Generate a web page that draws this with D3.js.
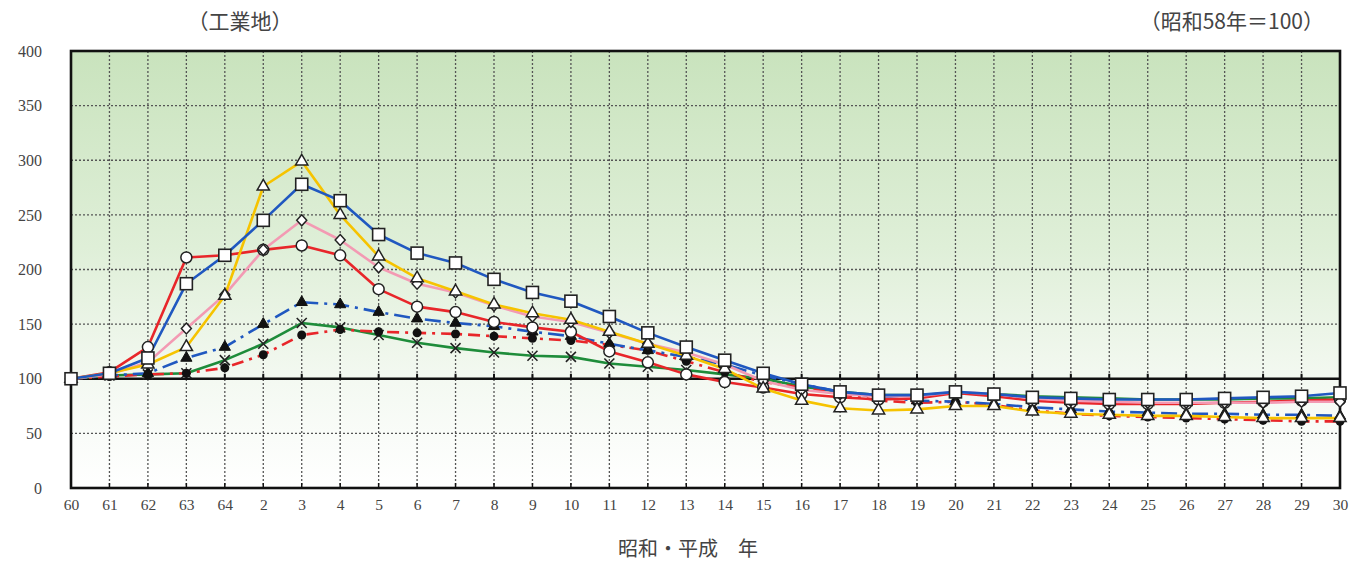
<!DOCTYPE html>
<html><head><meta charset="utf-8">
<script src="https://cdn.jsdelivr.net/npm/d3@7"></script>
<style>body{margin:0;background:#fff;} svg{display:block;}</style>
</head><body>
<svg id="chart" width="1365" height="562"></svg>
<script>
const categories = ["60","61","62","63","64","2","3","4","5","6","7","8","9","10","11","12","13","14","15","16","17","18","19","20","21","22","23","24","25","26","27","28","29","30"];
const yTicks = [0,50,100,150,200,250,300,350,400];

const redCircle   = [100,106,129,211,213,218,222,213,182,166,161,152,147,143,125,115,104,97,92,86,83,81,82,87,84,80,78,77,77,77,78,79,80,81];
const blueSquare  = [100,105,119,187,213,245,278,263,232,215,206,191,179,171,157,142,129,117,105,95,88,85,85,88,86,83,82,81,81,81,82,83,84,87];
const yellowTri   = [100,105,113,129,176,276,299,250,212,192,180,168,160,154,143,132,121,109,91,80,73,71,72,75,75,70,68,67,66,66,65,64,64,64];
const pinkDiamond = [100,104,115,146,177,218,245,227,202,187,179,167,157,152,142,132,124,113,98,90,86,84,84,88,86,82,80,79,78,78,78,78,79,79];
const blueDashTri = [100,103,105,119,129,150,170,168,161,155,151,148,143,139,132,126,120,113,103,95,88,83,80,79,77,74,72,70,69,68,68,67,67,66];
const greenCross  = [100,103,104,105,117,132,151,147,140,133,128,124,121,120,114,111,108,104,100,93,88,85,85,87,86,84,83,82,81,81,81,82,82,83];
const redDashDot  = [100,102,104,105,110,122,140,145,143,142,141,139,137,135,131,126,116,106,97,92,86,80,78,79,76,71,68,66,65,64,63,62,61,61];

const series = [
  {values: greenCross,  color:"#1e8c3a", dash:null,          marker:"cross"},
  {values: redDashDot,  color:"#e8262a", dash:"12,6,3,6",    marker:"fcircle"},
  {values: blueDashTri, color:"#2058c0", dash:"16,6,3,6",    marker:"ftri"},
  {values: redCircle,   color:"#e8262a", dash:null,          marker:"circle"},
  {values: pinkDiamond, color:"#f39ab3", dash:null,          marker:"diamond"},
  {values: yellowTri,   color:"#f6c300", dash:null,          marker:"tri"},
  {values: blueSquare,  color:"#2058c0", dash:null,          marker:"square"}
];

const svg = d3.select("#chart");
const L = 71, R = 1340, T = 51, B = 488;
const x = d3.scalePoint().domain(categories).range([L, R]);
const y = d3.scaleLinear().domain([0, 400]).range([B, T]);

const defs = svg.append("defs");
const grad = defs.append("linearGradient").attr("id","bg").attr("x1",0).attr("y1",0).attr("x2",0).attr("y2",1);
grad.append("stop").attr("offset","0%").attr("stop-color","#c9e3bd");
grad.append("stop").attr("offset","45%").attr("stop-color","#dfefd8");
grad.append("stop").attr("offset","76%").attr("stop-color","#f4f9f2");
grad.append("stop").attr("offset","100%").attr("stop-color","#ffffff");

svg.append("rect").attr("x",L).attr("y",T).attr("width",R-L).attr("height",B-T).attr("fill","url(#bg)");

// grid
const grid = svg.append("g");
grid.selectAll("line.v").data(categories.slice(1, -1)).join("line")
  .attr("x1", d => x(d)).attr("x2", d => x(d)).attr("y1", T).attr("y2", B)
  .attr("stroke","#555").attr("stroke-width",1.3).attr("stroke-dasharray","2,2");
grid.selectAll("line.h").data(yTicks.filter(v => v > 0 && v < 400 && v !== 100)).join("line")
  .attr("x1", L).attr("x2", R).attr("y1", d => y(d)).attr("y2", d => y(d))
  .attr("stroke","#555").attr("stroke-width",1.3).attr("stroke-dasharray","2,2");

// 100 baseline
svg.append("line").attr("x1",L).attr("x2",R).attr("y1",y(100)).attr("y2",y(100))
  .attr("stroke","#111").attr("stroke-width",2.5);
svg.append("g").selectAll("line").data(categories.slice(1,-1)).join("line")
  .attr("x1", d => x(d)).attr("x2", d => x(d)).attr("y1", y(100)).attr("y2", y(100)-5)
  .attr("stroke","#111").attr("stroke-width",2);
svg.append("g").selectAll("line").data(categories.slice(1,-1)).join("line")
  .attr("x1", d => x(d)).attr("x2", d => x(d)).attr("y1", B).attr("y2", B-5)
  .attr("stroke","#111").attr("stroke-width",1.5);

// frame
svg.append("rect").attr("x",L).attr("y",T).attr("width",R-L).attr("height",B-T)
  .attr("fill","none").attr("stroke","#111").attr("stroke-width",2.6);

// axes labels
const yAxis = d3.axisLeft(y).tickValues(yTicks).tickSize(0).tickPadding(29);
svg.append("g").attr("transform",`translate(${L},0)`).call(yAxis)
  .call(g => g.select(".domain").remove())
  .selectAll("text").attr("font-family","'Liberation Serif', 'DejaVu Serif', serif")
  .attr("font-size",16).attr("fill","#444");
const xAxis = d3.axisBottom(x).tickSize(0).tickPadding(11);
svg.append("g").attr("transform",`translate(0,${B})`).call(xAxis)
  .call(g => g.select(".domain").remove())
  .selectAll("text").attr("font-family","'Liberation Serif', 'DejaVu Serif', serif")
  .attr("font-size",15.5).attr("fill","#444");

// lines
const line = d3.line().x((d,i) => x(categories[i])).y(d => y(d));
const lg = svg.append("g");
series.forEach(s => {
  lg.append("path").datum(s.values).attr("d", line)
    .attr("fill","none").attr("stroke", s.color).attr("stroke-width", 2.6)
    .attr("stroke-linejoin","round").attr("stroke-linecap", s.dash ? "butt" : "round")
    .attr("stroke-dasharray", s.dash);
});

// markers
const mg = svg.append("g");
series.forEach(s => {
  s.values.forEach((v, i) => {
    const cx = x(categories[i]), cy = y(v);
    const g = mg.append("g").attr("transform", `translate(${cx},${cy})`);
    switch (s.marker) {
      case "circle":
        g.append("circle").attr("r",5.5).attr("fill","#fff").attr("stroke","#222").attr("stroke-width",1.5); break;
      case "square":
        g.append("rect").attr("x",-6).attr("y",-6).attr("width",12).attr("height",12)
          .attr("fill","#fff").attr("stroke","#222").attr("stroke-width",1.6); break;
      case "tri":
        g.append("path").attr("d", d3.symbol(d3.symbolTriangle, 65)())
          .attr("fill","#fff").attr("stroke","#222").attr("stroke-width",1.5); break;
      case "diamond":
        g.append("path").attr("d","M0,-5.5L5,0L0,5.5L-5,0Z")
          .attr("fill","#fff").attr("stroke","#222").attr("stroke-width",1.5); break;
      case "ftri":
        g.append("path").attr("d", d3.symbol(d3.symbolTriangle, 55)())
          .attr("fill","#111").attr("stroke","#111").attr("stroke-width",1); break;
      case "fcircle":
        g.append("circle").attr("r",4.5).attr("fill","#111"); break;
      case "cross":
        g.append("path").attr("d","M-5,-5L5,5M-5,5L5,-5")
          .attr("stroke","#222").attr("stroke-width",1.6).attr("fill","none"); break;
    }
  });
});

// titles
const jp = "'Noto Sans CJK JP', 'Noto Sans', sans-serif";
svg.append("text").attr("x",240).attr("y",29).attr("text-anchor","middle")
  .attr("font-family",jp).attr("font-size",21).attr("fill","#444").text("（工業地）");
svg.append("text").attr("x",1324).attr("y",29).attr("text-anchor","end")
  .attr("font-family",jp).attr("font-size",21).attr("fill","#444").text("（昭和58年＝100）");
svg.append("text").attr("x",688).attr("y",556).attr("text-anchor","middle")
  .attr("font-family",jp).attr("font-size",20).attr("fill","#444").attr("xml:space","preserve").text("昭和・平成　年");
</script>
</body></html>
